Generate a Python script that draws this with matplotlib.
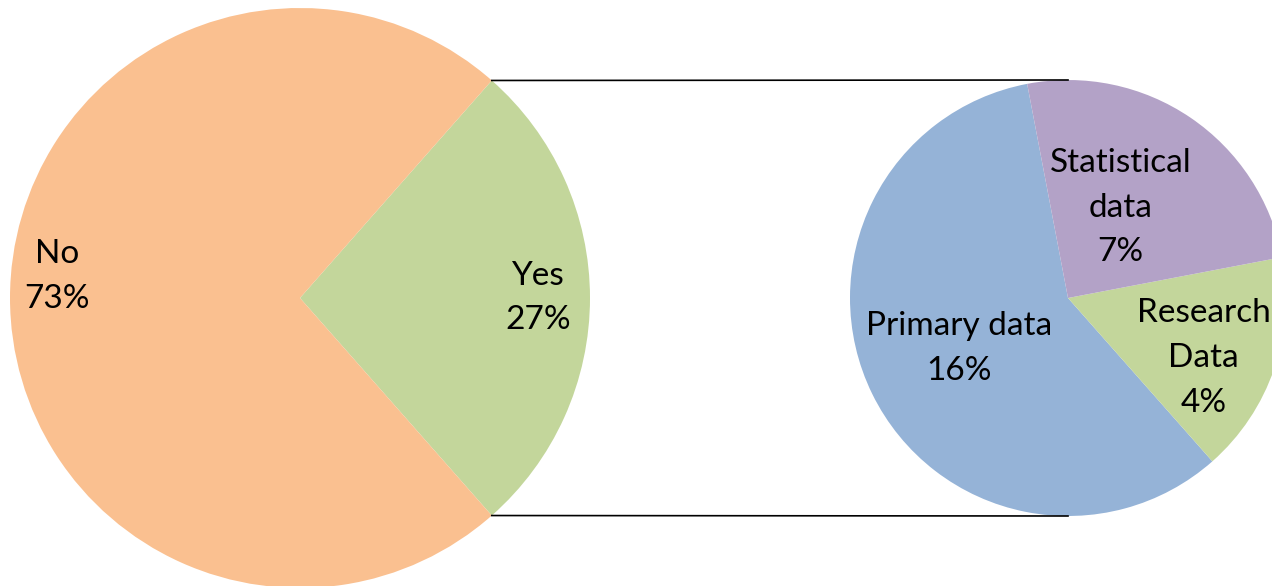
import numpy as np
import matplotlib
matplotlib.use("Agg")
from matplotlib import pyplot as plt

plt.rcParams['font.family'] = ['Lato', 'DejaVu Sans']

# main pie
main_labels = ['No', 'Yes']
main_values = [73, 27]
main_colors = ['#FAC090', '#C3D69B']

# breakdown of "Yes" (share of all answers, %)
sub_labels = ['Primary data', 'Research\nData', 'Statistical\ndata']
sub_values = [15.8, 4.45, 6.75]
sub_colors = ['#95B3D7', '#C3D69B', '#B3A2C7']

# layout (pixel-like data coordinates)
W, H = 1272, 586
c1, r1 = (300, 288), 290
c2, r2 = (1068, 288), 218
sub_start = 100.8
main_dist = [0.84, 0.82]
sub_dist = [0.55, 0.68, 0.48]
main_ang_adj = [-5, 0]
sub_ang_adj = [-1, -5, 4]
fs = 24
ls = 1.62

fig = plt.figure(figsize=(W / 100, H / 100), dpi=100)
ax = fig.add_axes([0, 0, 1, 1])

# Yes drawn first so it sits on the right, centred on 0 deg
w1, _ = ax.pie(main_values[::-1], colors=main_colors[::-1], center=c1, radius=r1,
               startangle=-main_values[1] / sum(main_values) * 180,
               wedgeprops=dict(linewidth=0))
w1 = w1[::-1]

w2, _ = ax.pie(sub_values, colors=sub_colors, center=c2, radius=r2,
               startangle=sub_start, wedgeprops=dict(linewidth=0))

tot = sum(main_values)
for w, lab, v, d, da in zip(w1, main_labels, main_values, main_dist, main_ang_adj):
    th = np.deg2rad((w.theta1 + w.theta2) / 2 + da)
    ax.text(c1[0] + d * r1 * np.cos(th), c1[1] + d * r1 * np.sin(th),
            f"{lab}\n{v / tot * 100:.0f}%", ha='center', va='center',
            fontsize=fs, linespacing=ls)

for w, lab, v, d, da in zip(w2, sub_labels, sub_values, sub_dist, sub_ang_adj):
    th = np.deg2rad((w.theta1 + w.theta2) / 2 + da)
    ax.text(c2[0] + d * r2 * np.cos(th), c2[1] + d * r2 * np.sin(th),
            f"{lab}\n{v:.0f}%", ha='center', va='center',
            fontsize=fs, linespacing=ls)

# connector lines from "Yes" wedge edges to top/bottom of sub pie
yes = w1[1]
for ang, sgn in [(yes.theta2, 1), (yes.theta1, -1)]:
    t = np.deg2rad(ang)
    x0, y0 = c1[0] + r1 * np.cos(t), c1[1] + r1 * np.sin(t)
    ax.plot([x0, c2[0]], [y0, c2[1] + sgn * r2], color='black', lw=1.2)

ax.set_xlim(0, W)
ax.set_ylim(0, H)
ax.set_aspect('equal')
ax.axis('off')

fig.savefig('out.png', dpi=100)
